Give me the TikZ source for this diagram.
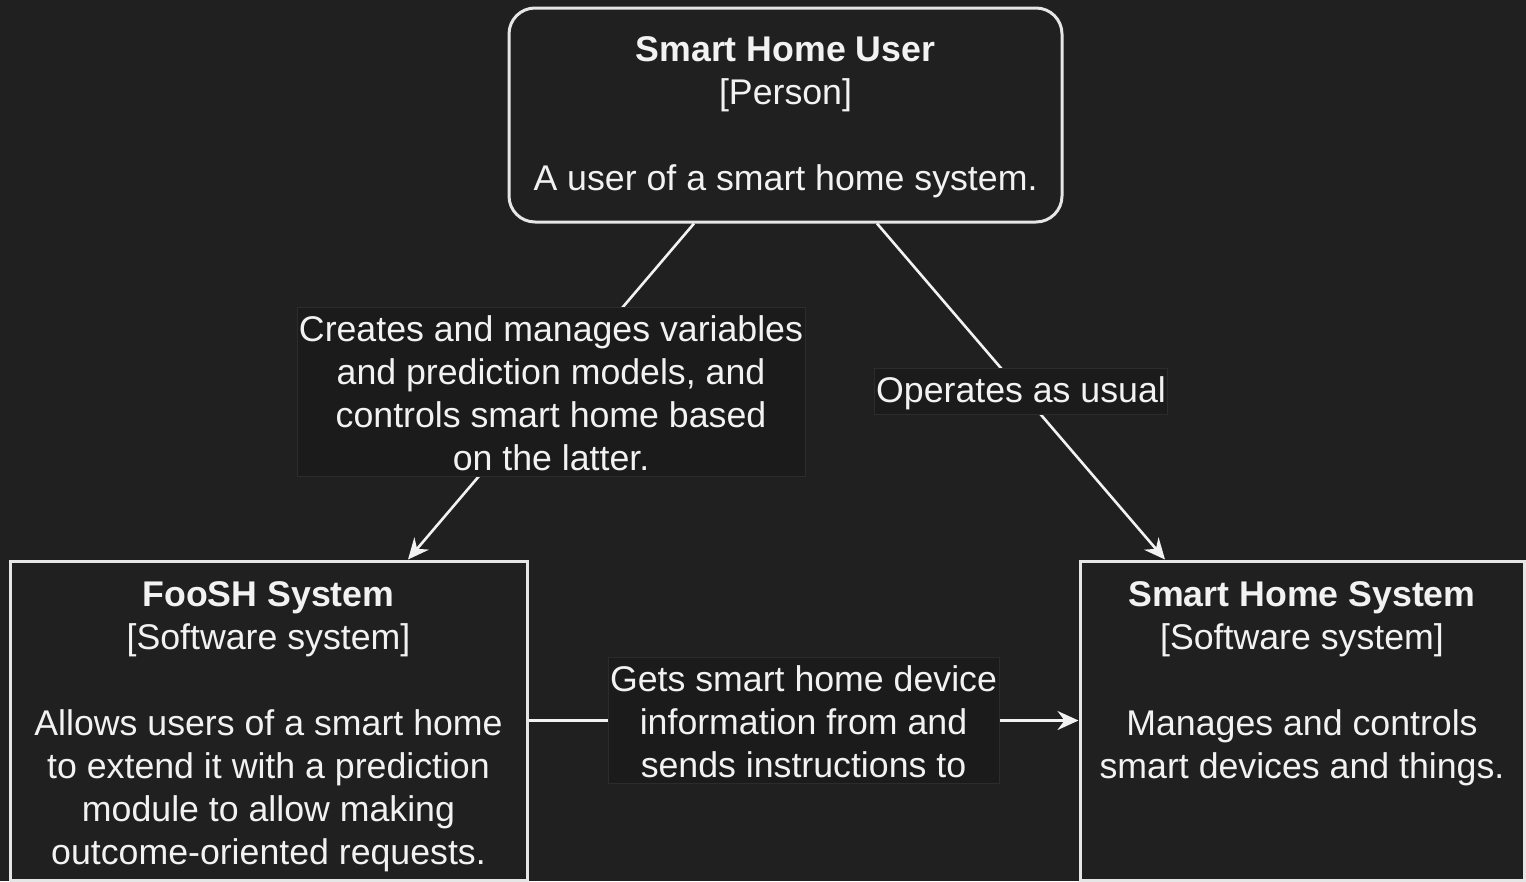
\documentclass[tikz,border=0pt]{standalone}
\usepackage{fontspec}
\setmainfont{Liberation Sans}
\usetikzlibrary{arrows.meta,calc}

\definecolor{bgcol}{HTML}{202020}
\definecolor{lblcol}{HTML}{1B1B1B}
\definecolor{lblline}{HTML}{2C2C2C}
\definecolor{inkcol}{HTML}{F2F2F2}
\definecolor{edgecol}{HTML}{E6E6E6}

% invisible strut that centres a line box on the cap height
\newcommand{\capstrut}{\rule[-2pt]{0pt}{32pt}}

\tikzset{
  diag font/.style={font=\fontsize{35.7pt}{43pt}\selectfont},
  sysbox/.style={draw=edgecol, line width=3pt, fill=bgcol, inner sep=0pt},
  boxtext/.style={diag font, text=inkcol, align=center, inner sep=0pt},
  conn/.style={draw=inkcol, line width=2.6pt,
    -{Stealth[length=21pt,width=19pt,inset=7pt]}},
  lbl/.style={diag font, text=inkcol, align=center, fill=lblcol,
    draw=lblline, line width=0.8pt, inner xsep=2pt, inner ysep=4pt},
}

\begin{document}
\begin{tikzpicture}[x=1pt,y=1pt]
  \useasboundingbox (0,0) rectangle (1526,-881);
  \fill[bgcol] (0,0) rectangle (1526,-881);

  % person
  \node[sysbox, boxtext, rounded corners=26pt,
        minimum width=553pt, minimum height=214pt]
    (user) at (785.5,-115)
    {\capstrut\textbf{Smart Home User}\\{[Person]}\\[43pt]A user of a smart home system.\capstrut};

  % software systems
  \node[sysbox, minimum width=517pt, minimum height=319pt]
    (foo) at (268.5,-720.5) {};
  \node[boxtext, anchor=north] (footext) at ([yshift=-17pt]foo.north)
    {\capstrut\textbf{FooSH System}\\{[Software system]}\\[43pt]Allows users of a smart home\\
     to extend it with a prediction\\module to allow making\\outcome-oriented requests.};

  \node[sysbox, minimum width=444pt, minimum height=319pt]
    (shs) at (1302,-720.5) {};
  \node[boxtext, anchor=north] (shstext) at ([yshift=-17pt]shs.north)
    {\capstrut\textbf{Smart Home System}\\{[Software system]}\\[43pt]Manages and controls\\
     smart devices and things.};

  % relationships
  \draw[conn] ([xshift=-91.5pt]user.south) -- ([xshift=139.5pt]foo.north)
    node[lbl, midway] (l1) {\capstrut Creates and manages variables\\and prediction models, and\\
      controls smart home based\\on the latter.\capstrut};
  \draw[conn] ([xshift=91.5pt]user.south) -- ([xshift=-137pt]shs.north)
    node[lbl, midway] (l2) {\capstrut Operates as usual};
  \draw[conn] (foo.east) -- (shs.west)
    node[lbl, midway] (l3) {\capstrut Gets smart home device\\information from and\\
      sends instructions to\capstrut};
\end{tikzpicture}
\end{document}
